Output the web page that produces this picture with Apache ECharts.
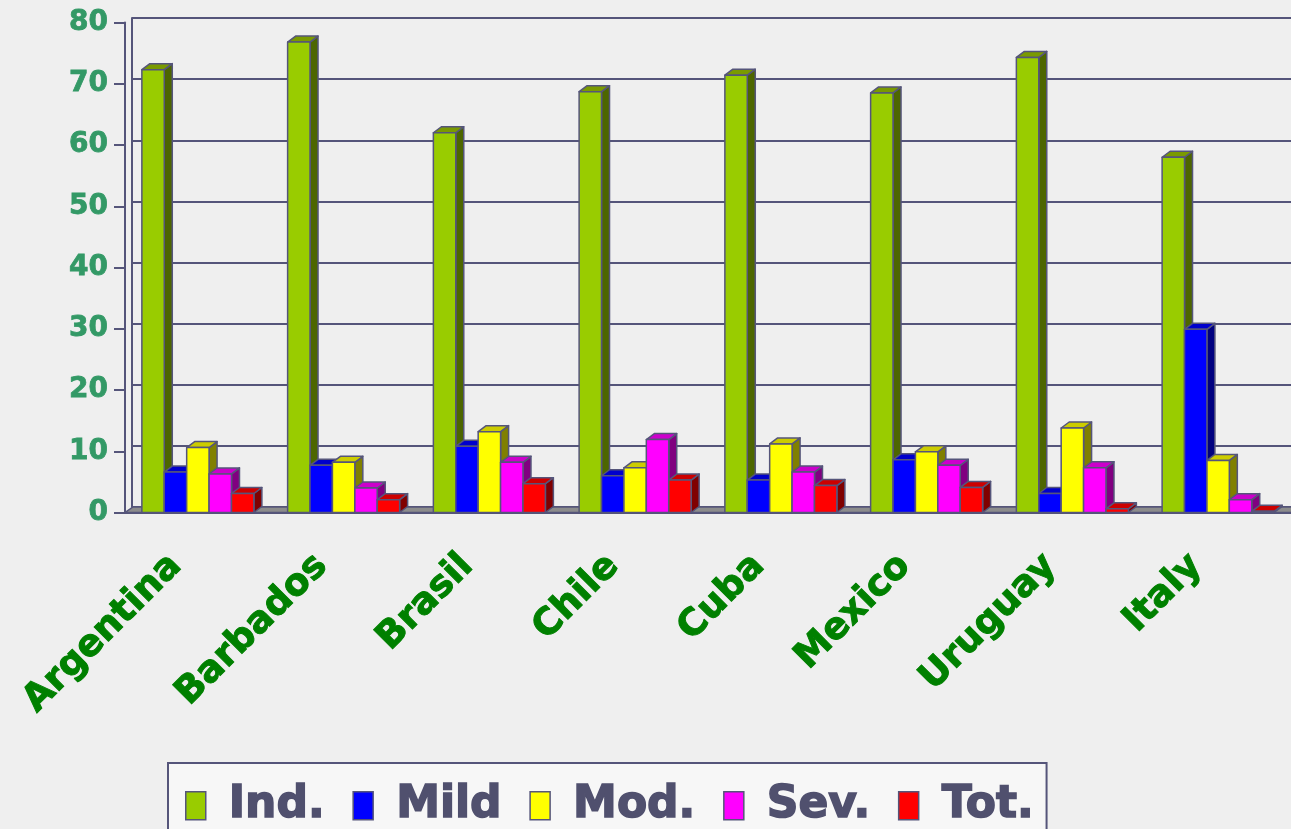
<!DOCTYPE html>
<html>
<head>
<meta charset="utf-8">
<script src="https://cdn.jsdelivr.net/npm/echarts@6/dist/echarts.min.js"></script>
<style>
  html, body { margin: 0; padding: 0; background: #efefef; }
  #chart { width: 1291px; height: 829px; }
</style>
</head>
<body>
<div id="chart"></div>
<script>
// values
var categories = ['Argentina', 'Barbados', 'Brasil', 'Chile', 'Cuba', 'Mexico', 'Uruguay', 'Italy'];
var ind = [72.3, 76.8, 62.0, 68.7, 71.4, 68.5, 74.3, 58.0];
var mild = [6.6, 7.7, 10.8, 6.0, 5.3, 8.6, 3.1, 29.9];
var mod = [10.6, 8.2, 13.2, 7.3, 11.2, 9.9, 13.8, 8.5];
var sev = [6.3, 4.0, 8.2, 11.9, 6.6, 7.7, 7.3, 2.1];
var tot = [3.1, 2.1, 4.7, 5.3, 4.4, 4.1, 0.6, 0.2];
var seriesNames = ['Ind.', 'Mild', 'Mod.', 'Sev.', 'Tot.'];

var faceColors = ['#99cc00', '#0000ff', '#ffff00', '#ff00ff', '#ff0000'];
var topColors = ['#7a9a00', '#0000cc', '#cccc00', '#cc00cc', '#cc0000'];
var sideColors = ['#4d6600', '#000080', '#808000', '#800080', '#800000'];
var edge = '#55557a';
var depthX = 8, depthY = 6;

var chart = echarts.init(document.getElementById('chart'));

// 3d looking bar: front face + right side + top
function bar3d(idx) {
  return function (params, api) {
    var x = api.value(0);
    var p = api.coord([x, api.value(1)]);
    var b = api.coord([x, 0]);
    var bw = api.size([1, 0])[0] * 0.1537;
    var l = p[0] - 2.5 * bw + idx * bw;
    var r = l + bw;
    var st = function (fill) {
      return { fill: fill, stroke: edge, lineWidth: 1.5, lineJoin: 'round' };
    };
    return {
      type: 'group',
      children: [
        { type: 'polygon', shape: { points: [[r, p[1]], [r + depthX, p[1] - depthY], [r + depthX, b[1] - depthY], [r, b[1]]] }, style: st(sideColors[idx]) },
        { type: 'polygon', shape: { points: [[l, p[1]], [l + depthX, p[1] - depthY], [r + depthX, p[1] - depthY], [r, p[1]]] }, style: st(topColors[idx]) },
        { type: 'rect', shape: { x: l, y: p[1], width: bw, height: b[1] - p[1] }, style: st(faceColors[idx]) }
      ]
    };
  };
}

// grey floor slab under the bars
function floor(params) {
  var cs = params.coordSys;
  var y = cs.y + cs.height;
  return {
    type: 'polygon',
    shape: { points: [[cs.x, y], [cs.x + cs.width, y], [cs.x + cs.width + depthX, y - 5.5], [cs.x + depthX, y - 5.5]] },
    style: { fill: '#8c8c8c', stroke: edge, lineWidth: 1.5 }
  };
}

var allValues = [ind, mild, mod, sev, tot];
var series = [{
  type: 'custom',
  xAxisIndex: 1,
  yAxisIndex: 1,
  silent: true,
  renderItem: floor,
  data: [[0, 0]]
}];
allValues.forEach(function (vals, i) {
  series.push({
    name: seriesNames[i],
    type: 'custom',
    xAxisIndex: 1,
    yAxisIndex: 1,
    renderItem: bar3d(i),
    itemStyle: { color: faceColors[i] },
    encode: { x: 0, y: 1 },
    data: vals.map(function (v, k) { return [k, v]; })
  });
});

chart.setOption({
  backgroundColor: '#efefef',
  animation: false,
  grid: [
    // back wall
    { left: 132, right: 0, top: 18, bottom: 322, outerBoundsMode: 'none' },
    // front: bars and axes
    { left: 125, right: 0, top: 22.5, bottom: 316.5, outerBoundsMode: 'none' }
  ],
  legend: {
    data: seriesNames,
    left: 168,
    top: 763,
    icon: 'rect',
    itemWidth: 20,
    itemHeight: 28,
    itemGap: 27,
    padding: [20, 12, 30, 17],
    backgroundColor: '#f7f7f7',
    borderColor: edge,
    borderWidth: 2,
    itemStyle: { borderColor: edge, borderWidth: 1.5 },
    textStyle: {
      fontFamily: 'DejaVu Sans',
      fontWeight: 'bold',
      fontSize: 44,
      color: '#50506e',
      textBorderColor: '#50506e',
      textBorderWidth: 1.5,
      padding: [0, 0, 0, 18]
    }
  },
  xAxis: [
    { gridIndex: 0, type: 'category', data: categories, show: false },
    {
      gridIndex: 1,
      type: 'category',
      data: categories,
      axisLine: { lineStyle: { color: edge, width: 2 } },
      axisTick: { length: 9, lineStyle: { color: edge, width: 2 } },
      axisLabel: {
        rotate: 45,
        margin: 26,
        padding: [0, 31, 0, 0],
        interval: 0,
        fontFamily: 'DejaVu Sans',
        fontWeight: 'bold',
        fontSize: 37,
        color: '#008000',
        textBorderColor: '#008000',
        textBorderWidth: 1
      }
    }
  ],
  yAxis: [
    {
      gridIndex: 0,
      type: 'value',
      min: 0,
      max: 80,
      interval: 10,
      axisLine: { show: true, lineStyle: { color: edge, width: 2 } },
      axisTick: { show: false },
      axisLabel: { show: false },
      splitLine: { show: true, lineStyle: { color: edge, width: 2 } }
    },
    {
      gridIndex: 1,
      type: 'value',
      min: 0,
      max: 80,
      interval: 10,
      axisLine: { show: true, lineStyle: { color: edge, width: 2 } },
      axisTick: { show: true, length: 11, lineStyle: { color: edge, width: 2 } },
      splitLine: { show: false },
      axisLabel: {
        margin: 17,
        fontFamily: 'DejaVu Sans',
        fontWeight: 'bold',
        fontSize: 28,
        color: '#339966',
        textBorderColor: '#339966',
        textBorderWidth: 0.8
      }
    }
  ],
  series: series
});
</script>
</body>
</html>
